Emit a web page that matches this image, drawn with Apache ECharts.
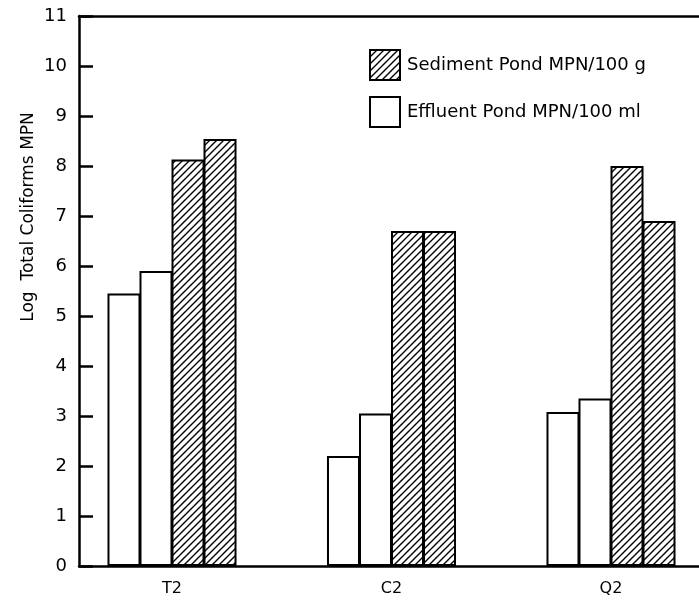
<!DOCTYPE html>
<html>
<head>
<meta charset="utf-8">
<script src="https://cdn.jsdelivr.net/npm/echarts@6/dist/echarts.min.js"></script>
<style>
  html, body { margin: 0; padding: 0; background: #fff; }
  #chart { width: 699px; height: 608px; }
</style>
</head>
<body>
<div id="chart"></div>
<script>
var categories = ["T2", "C2", "Q2"];
var yTicks = [0, 11, 1]; // min, max, interval
// two bars of each pond type per site
var effluentA = [5.45, 2.2, 3.08];
var effluentB = [5.9, 3.05, 3.35];
var sedimentA = [8.13, 6.7, 8.0];
var sedimentB = [8.54, 6.7, 6.9];

var SED = "Sediment Pond MPN/100 g";
var EFF = "Effluent Pond MPN/100 ml";
var FONT = "DejaVu Sans";

// diagonal hatch tile
function hatch() {
  var s = 7;
  var c = document.createElement("canvas");
  c.width = s; c.height = s;
  var g = c.getContext("2d");
  g.fillStyle = "#fff";
  g.fillRect(0, 0, s, s);
  g.strokeStyle = "#000";
  g.lineWidth = 1.4;
  g.beginPath();
  g.moveTo(-1, s + 1); g.lineTo(s + 1, -1);
  g.moveTo(-1, 1); g.lineTo(1, -1);
  g.moveTo(s - 1, s + 1); g.lineTo(s + 1, s - 1);
  g.stroke();
  return c;
}
var hatchPattern = { image: hatch(), repeat: "repeat" };

function barSeries(name, data, filled) {
  return {
    name: name,
    type: "bar",
    xAxisIndex: 1,
    yAxisIndex: 1,
    barWidth: 33,
    barGap: "-3%",
    clip: false,
    itemStyle: {
      color: filled ? hatchPattern : "#fff",
      borderColor: "#000",
      borderWidth: 2
    },
    data: data
  };
}

// plain frame line (no ticks, no labels)
function frameAxis(pos) {
  return {
    gridIndex: 0,
    type: "value",
    position: pos,
    axisLine: { show: true, lineStyle: { color: "#000", width: 2.5 } },
    axisTick: { show: false },
    axisLabel: { show: false },
    splitLine: { show: false }
  };
}

var myChart = echarts.init(document.getElementById("chart"));
myChart.setOption({
  animation: false,
  backgroundColor: "#fff",
  textStyle: { fontFamily: FONT },
  legend: {
    data: [SED, EFF],
    orient: "vertical",
    left: 364,
    top: 44,
    itemWidth: 30,
    itemHeight: 30,
    itemGap: 15,
    icon: "rect",
    textStyle: { fontSize: 18, color: "#000", fontFamily: FONT, padding: [0, 0, 0, 2] }
  },
  graphic: [{
    type: "text",
    x: 29,
    y: 217,
    rotation: Math.PI / 2,
    style: {
      text: "Log  Total Coliforms MPN",
      font: "17px " + FONT,
      fill: "#000",
      align: "center",
      verticalAlign: "middle"
    }
  }],
  grid: [
    // frame + value axis
    { left: 79, right: 0, top: 16, bottom: 42 },
    // bars: site centres sit on the edge/middle ticks
    { left: 172, width: 439, top: 16, bottom: 42 }
  ],
  xAxis: [
    frameAxis("bottom"),
    {
      gridIndex: 1,
      type: "category",
      data: categories,
      boundaryGap: false,
      axisLine: { show: false },
      axisTick: { show: false },
      axisLabel: { color: "#000", fontSize: 16, margin: 15, fontFamily: FONT }
    },
    frameAxis("top")
  ],
  yAxis: [
    {
      gridIndex: 0,
      type: "value",
      min: yTicks[0],
      max: yTicks[1],
      interval: yTicks[2],
      splitLine: { show: false },
      axisLine: { show: true, lineStyle: { color: "#000", width: 2.5 } },
      axisTick: { show: true, inside: true, length: 14, lineStyle: { color: "#000", width: 2.5 } },
      axisLabel: { color: "#000", fontSize: 18, margin: 12, fontFamily: FONT }
    },
    {
      gridIndex: 1,
      type: "value",
      min: yTicks[0],
      max: yTicks[1],
      interval: yTicks[2],
      show: false
    }
  ],
  series: [
    barSeries(EFF, effluentA, false),
    barSeries(EFF, effluentB, false),
    barSeries(SED, sedimentA, true),
    barSeries(SED, sedimentB, true)
  ]
});
</script>
</body>
</html>
